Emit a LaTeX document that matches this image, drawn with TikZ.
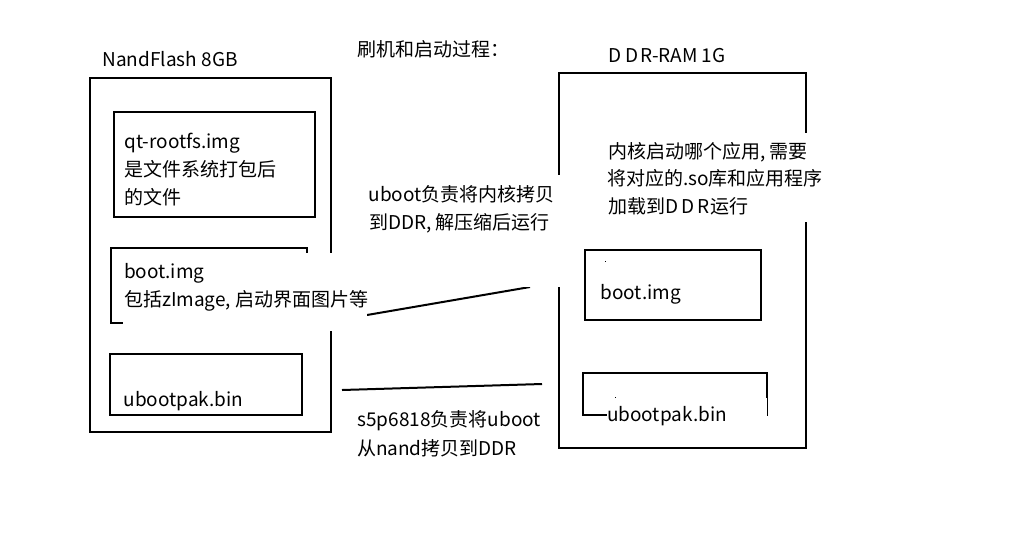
\documentclass[tikz,border=0pt]{standalone}
\usepackage{fontspec}
\setmainfont{Noto Sans CJK SC}
\begin{document}
\begin{tikzpicture}[x=1pt,y=-1pt,
  box/.style={draw=black,line width=2pt,inner sep=0pt,outer sep=0pt,anchor=north west},
  cover/.style={fill=white},
  stroke/.style={draw=black,line width=2pt},
  txt/.style={anchor=base west,inner sep=0pt,outer sep=0pt,font=\fontsize{19}{27}\selectfont}]
\useasboundingbox[fill=white] (0,0) rectangle (1027,542);
% boxes
\node[box,minimum width=241pt,minimum height=354pt] (nand) at (90,77.7) {};
\node[box,minimum width=201pt,minimum height=105pt] (qt) at (114,112.3) {};
\node[box,minimum width=196pt,minimum height=75.3pt] (bootL) at (111,247.7) {};
\node[box,minimum width=192.2pt,minimum height=60.7pt] (ubootL) at (109.5,354.3) {};
\node[box,minimum width=247pt,minimum height=375pt] (ddr) at (559,73.3) {};
\node[box,minimum width=175.7pt,minimum height=70pt] (bootR) at (585,250) {};
\node[box,minimum width=184pt,minimum height=42pt] (ubootR) at (583,373) {};
% connector strokes
\coordinate (l1a) at (367,315);
\coordinate (l1b) at (530,287);
\coordinate (l2a) at (342,390);
\coordinate (l2b) at (542,384);
\draw[stroke] (l1a) -- (l1b);
\draw[stroke] (l2a) -- (l2b);
% white text backgrounds
\fill[cover] (123,253) rectangle (367,331);
\fill[cover] (362,175) rectangle (566,287);
\fill[cover] (600,133) rectangle (830,222);
\fill[cover] (607,398) rectangle (767,423);
% tiny dots
\fill[black] (604.5,261.2) rectangle (605.7,262.4);
\fill[black] (614.5,396.5) rectangle (615.7,397.7);
% titles
\node[txt] (tNand) at (102.5,66.5) {NandFlash 8GB};
\node[txt] (tProc) at (357,56.5) {刷机和启动过程：};
\node[txt] (tDdr) at (608.5,62) {D\kern4pt D\kern2pt R-RAM 1G};
% left texts
\node[txt] (qt1) at (124.5,148.5) {qt-rootfs.img};
\node[txt] (qt2) at (124,176.5) {是文件系统打包后};
\node[txt] (qt3) at (124,204.5) {的文件};
\node[txt] (bl1) at (124,278.5) {boot.img};
\node[txt] (bl2) at (124,306) {包括zImage, 启动界面图片等};
\node[txt] (ul1) at (123.5,406) {ubootpak.bin};
% middle texts
\node[txt] (m1) at (368.5,201.5) {uboot负责将内核拷贝};
\node[txt] (m2) at (369,229) {到DDR, 解压缩后运行};
\node[txt] (s1) at (357.5,426.5) {s5p6818负责将uboot};
\node[txt] (s2) at (357,455) {从nand拷贝到DDR};
% right texts
\node[txt] (r1) at (608,158.5) {内核启动哪个应用, 需要};
\node[txt] (r2) at (607,185.5) {将对应的.so库和应用程序};
\node[txt] (r3) at (608,213.5) {加载到D\kern3pt D\kern3pt R\kern1pt 运行};
\node[txt] (br1) at (600.5,299.5) {boot.img};
\node[txt] (ur1) at (607,421) {ubootpak.bin};
\end{tikzpicture}
\end{document}
